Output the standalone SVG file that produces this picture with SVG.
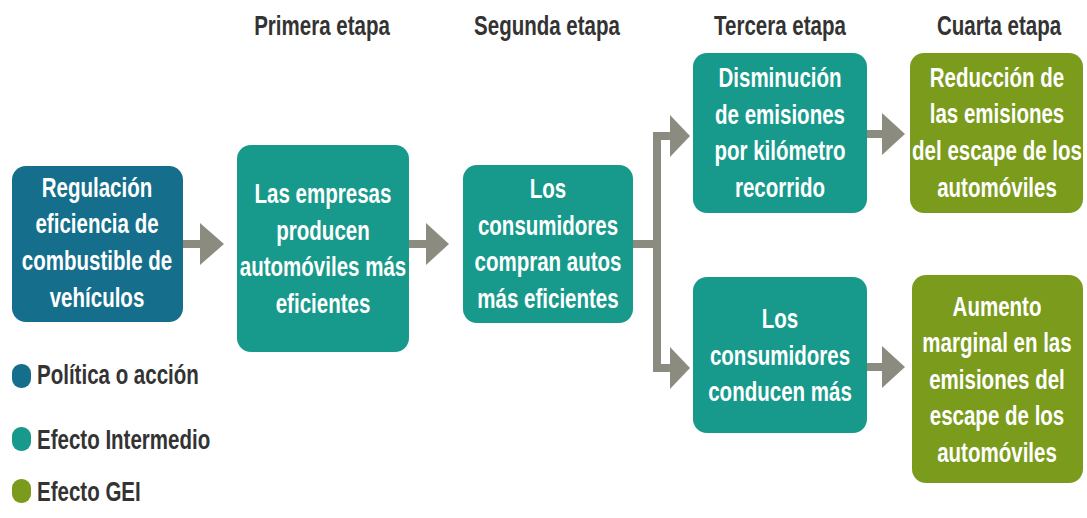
<svg xmlns="http://www.w3.org/2000/svg" width="1087" height="518" viewBox="0 0 1087 518">
<style>
.bx{stroke:none}
.pol{fill:#156f8c}
.int{fill:#179a8b}
.gei{fill:#7b9b1c}
.t{font-family:"Liberation Sans",Arial,sans-serif;font-weight:bold;font-size:27px;fill:#ffffff;text-anchor:middle}
.h{font-family:"Liberation Sans",Arial,sans-serif;font-weight:bold;font-size:27px;fill:#333333;text-anchor:middle}
.lg{font-family:"Liberation Sans",Arial,sans-serif;font-weight:bold;font-size:27px;fill:#333333}
.ar{fill:#8b8b80}
.ln{stroke:#8b8b80;stroke-width:8;fill:none}
</style>
<rect width="1087" height="518" fill="#ffffff"/>
<g id="headers">
<g transform="translate(322 0) scale(0.76 1)"><text class="h" x="0" y="35">Primera etapa</text></g>
<g transform="translate(547 0) scale(0.76 1)"><text class="h" x="0" y="35">Segunda etapa</text></g>
<g transform="translate(780 0) scale(0.76 1)"><text class="h" x="0" y="35">Tercera etapa</text></g>
<g transform="translate(999 0) scale(0.76 1)"><text class="h" x="0" y="35">Cuarta etapa</text></g>
</g>
<g id="connectors">
<line class="ln" x1="183" y1="244" x2="202" y2="244"/>
<polygon class="ar" points="200,223 224,244 200,265"/>
<line class="ln" x1="409" y1="244" x2="428" y2="244"/>
<polygon class="ar" points="426,223 449,244 426,265"/>
<polyline class="ln" points="633,244 657,244"/>
<polyline class="ln" points="673,136 657,136 657,368 673,368"/>
<polygon class="ar" points="670,115 690,136 670,157"/>
<polygon class="ar" points="670,347 690,368 670,389"/>
<line class="ln" x1="867" y1="134" x2="885" y2="134"/>
<polygon class="ar" points="882,113 905,134 882,155"/>
<line class="ln" x1="867" y1="367" x2="885" y2="367"/>
<polygon class="ar" points="882,346 905,367 882,388"/>
</g>
<g id="n1">
<rect class="bx pol" x="12" y="166" width="171" height="156" rx="14"/>
<g transform="translate(97 0) scale(0.76 1)">
<text class="t" x="0" y="197">Regulación</text>
<text class="t" x="0" y="233">eficiencia de</text>
<text class="t" x="0" y="270">combustible de</text>
<text class="t" x="0" y="307">vehículos</text>
</g>
</g>
<g id="n2">
<rect class="bx int" x="237" y="145" width="172" height="207" rx="14"/>
<g transform="translate(323 0) scale(0.76 1)">
<text class="t" x="0" y="203">Las empresas</text>
<text class="t" x="0" y="240">producen</text>
<text class="t" x="0" y="276">automóviles más</text>
<text class="t" x="0" y="313">eficientes</text>
</g>
</g>
<g id="n3">
<rect class="bx int" x="463" y="165" width="170" height="158" rx="14"/>
<g transform="translate(548 0) scale(0.76 1)">
<text class="t" x="0" y="198">Los</text>
<text class="t" x="0" y="235">consumidores</text>
<text class="t" x="0" y="271">compran autos</text>
<text class="t" x="0" y="308">más eficientes</text>
</g>
</g>
<g id="n4">
<rect class="bx int" x="693" y="53" width="174" height="160" rx="14"/>
<g transform="translate(780 0) scale(0.76 1)">
<text class="t" x="0" y="87">Disminución</text>
<text class="t" x="0" y="124">de emisiones</text>
<text class="t" x="0" y="160">por kilómetro</text>
<text class="t" x="0" y="197">recorrido</text>
</g>
</g>
<g id="n5">
<rect class="bx int" x="693" y="277" width="174" height="156" rx="14"/>
<g transform="translate(780 0) scale(0.76 1)">
<text class="t" x="0" y="328">Los</text>
<text class="t" x="0" y="365">consumidores</text>
<text class="t" x="0" y="401">conducen más</text>
</g>
</g>
<g id="n6">
<rect class="bx gei" x="910" y="53" width="173" height="160" rx="14"/>
<g transform="translate(997 0) scale(0.76 1)">
<text class="t" x="0" y="87">Reducción de</text>
<text class="t" x="0" y="123">las emisiones</text>
<text class="t" x="0" y="160">del escape de los</text>
<text class="t" x="0" y="197">automóviles</text>
</g>
</g>
<g id="n7">
<rect class="bx gei" x="912" y="275" width="171" height="208" rx="14"/>
<g transform="translate(997 0) scale(0.76 1)">
<text class="t" x="0" y="316">Aumento</text>
<text class="t" x="0" y="352">marginal en las</text>
<text class="t" x="0" y="389">emisiones del</text>
<text class="t" x="0" y="425">escape de los</text>
<text class="t" x="0" y="462">automóviles</text>
</g>
</g>
<g id="legend">
<rect class="pol" x="12" y="364" width="19" height="24" rx="9"/>
<rect class="int" x="12" y="427" width="19" height="24" rx="9"/>
<rect class="gei" x="12" y="479" width="19" height="24" rx="9"/>
<g transform="translate(37 0) scale(0.76 1)">
<text class="lg" x="0" y="384">Política o acción</text>
<text class="lg" x="0" y="449">Efecto Intermedio</text>
<text class="lg" x="0" y="501">Efecto GEI</text>
</g>
</g>
</svg>
